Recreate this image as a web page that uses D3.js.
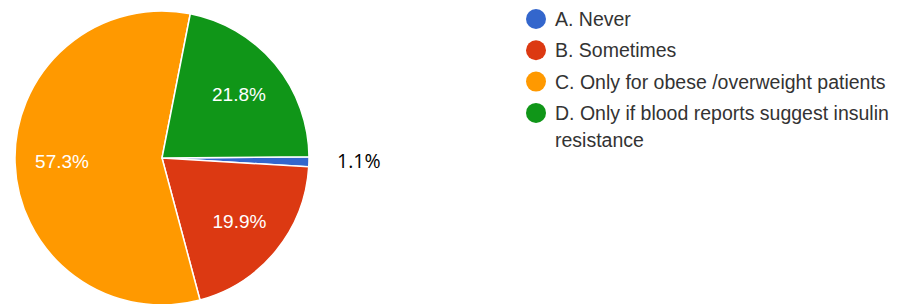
<!DOCTYPE html>
<html>
<head>
<meta charset="utf-8">
<script src="https://cdn.jsdelivr.net/npm/d3@7"></script>
<style>
  body { margin: 0; background: #fff; }
  svg { display: block; }
</style>
</head>
<body>
<svg id="chart"></svg>
<script>
const width = 899, height = 304;
const svg = d3.select("#chart").attr("width", width).attr("height", height);

// Survey answers and their shares (percent)
const categories = ["A. Never", "B. Sometimes", "C. Only for obese /overweight patients", "D. Only if blood reports suggest insulin resistance"];
const values = [1.1, 19.9, 57.3, 21.8];
const colors = ["#3366cc", "#dc3912", "#ff9900", "#109618"];

const cx = 162, cy = 158, radius = 147;
const start = 89.5 * Math.PI / 180;

const pie = d3.pie().sort(null).value(d => d.value)
  .startAngle(start).endAngle(start + 2 * Math.PI);
const arc = d3.arc().innerRadius(0).outerRadius(radius);
const labelArc = d3.arc().innerRadius(100).outerRadius(100);

const data = categories.map((c, i) => ({ name: c, value: values[i], color: colors[i] }));
const arcs = pie(data);

const g = svg.append("g").attr("transform", `translate(${cx},${cy})`);

g.selectAll("path")
  .data(arcs)
  .join("path")
  .attr("d", arc)
  .attr("fill", d => d.data.color)
  .attr("stroke", "#fff")
  .attr("stroke-width", 1.5);

// percentage labels inside the bigger slices
g.selectAll("text.pct")
  .data(arcs.filter(d => d.data.value > 5))
  .join("text")
  .attr("class", "pct")
  .attr("transform", d => `translate(${labelArc.centroid(d)})`)
  .attr("text-anchor", "middle")
  .attr("dy", "0.36em")
  .attr("fill", "#fff")
  .style("font-family", "'Liberation Sans', Arial, sans-serif")
  .style("font-size", "19px")
  .text(d => d.data.value.toFixed(1) + "%");

// the small slice gets its label outside
const small = arcs.filter(d => d.data.value <= 5)[0];
svg.append("text")
  .attr("x", 337)
  .attr("y", 161)
  .attr("dy", "0.36em")
  .attr("fill", "#000")
  .style("font-family", "'Open Sans', 'Liberation Sans', sans-serif")
  .style("font-size", "19.5px")
  .text(small.data.value.toFixed(1) + "%");

// legend
const legend = svg.append("g").attr("transform", "translate(536,19)");
const item = legend.selectAll("g")
  .data(data)
  .join("g")
  .attr("transform", (d, i) => `translate(0,${i * 31.3})`);

item.append("circle")
  .attr("r", 10)
  .attr("fill", d => d.color);

item.append("text")
  .attr("fill", "#333")
  .style("font-family", "'Liberation Sans', Arial, sans-serif")
  .style("font-size", "19.5px")
  .each(function(d) {
    // wrap the long label the same way the original does
    const t = d3.select(this);
    const parts = d.name === categories[3]
      ? ["D. Only if blood reports suggest insulin", "resistance"]
      : [d.name];
    parts.forEach((p, j) => {
      t.append("tspan").attr("x", 19).attr("dy", j === 0 ? "0.36em" : "27px").text(p);
    });
  });
</script>
</body>
</html>
